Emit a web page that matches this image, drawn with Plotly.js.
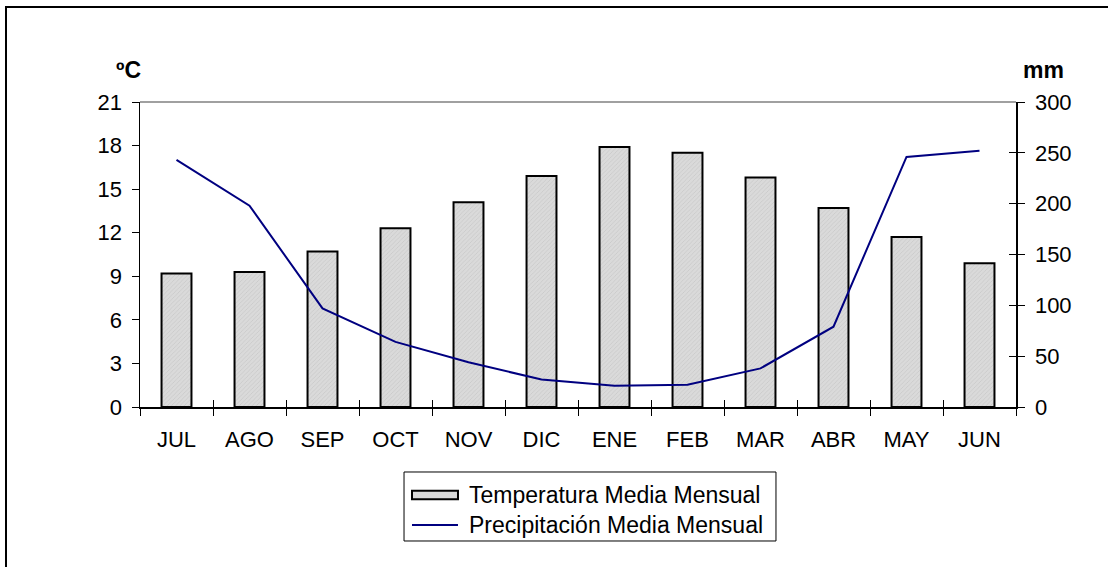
<!DOCTYPE html>
<html>
<head>
<meta charset="utf-8">
<script src="https://cdn.plot.ly/plotly-3.0.1.min.js"></script>
<style>
  html, body { margin: 0; padding: 0; background: #fff; overflow: hidden; }
  #wrap { position: relative; width: 1108px; height: 567px; }
  #chart { position: absolute; left: 0; top: 0; width: 1108px; height: 567px; }
  #frame { position: absolute; left: 5px; top: 6px; width: 1200px; height: 700px;
           border: 2px solid #000; pointer-events: none; }
</style>
</head>
<body>
<div id="wrap">
  <div id="chart"></div>
  <div id="frame"></div>
</div>
<script>
const months = ["JUL","AGO","SEP","OCT","NOV","DIC","ENE","FEB","MAR","ABR","MAY","JUN"];
const temperature = [9.2, 9.3, 10.7, 12.3, 14.1, 15.9, 17.9, 17.5, 15.8, 13.7, 11.7, 9.9];
const precipitation = [243, 198, 97, 64, 44, 27, 21, 22, 38, 79, 246, 252];
const tempTicks = [0, 3, 6, 9, 12, 15, 18, 21];
const precTicks = [0, 50, 100, 150, 200, 250, 300];
const tempName = "Temperatura Media Mensual";
const precName = "Precipitación Media Mensual";
const tempUnit = "ºC";
const precUnit = "mm";

const FONT = '"Liberation Sans", Arial, sans-serif';
const BAR_FILL = "#d9d9d9";
const LINE_COLOR = "#000080";

const traces = [
  {
    type: "bar", x: months, y: temperature, name: tempName,
    xaxis: "x", yaxis: "y", width: 0.41, showlegend: false,
    marker: {
      color: BAR_FILL,
      line: { color: "#000", width: 2 },
      pattern: { shape: "/", fgcolor: "#c4c4c4", bgcolor: "#dadada", size: 3, solidity: 0.2 }
    },
    hoverinfo: "x+y"
  },
  {
    type: "scatter", mode: "lines", x: months, y: precipitation, name: precName,
    xaxis: "x", yaxis: "y2", showlegend: false,
    line: { color: LINE_COLOR, width: 2 },
    hoverinfo: "x+y"
  },
  // invisible helper so the overlay axes (for crossing ticks) get drawn
  { type: "scatter", mode: "lines", x: months, y: precipitation, xaxis: "x2", yaxis: "y3",
    opacity: 0, showlegend: false, hoverinfo: "skip" }
];

// legend box geometry (paper coordinates)
const LG = { x0: 0.3014, x1: 0.7260, y0: -0.4393, y1: -0.2131,
             sx0: 0.3105, sx1: 0.3630, tx: 0.3733, r1: -0.2885, r2: -0.3869 };

const layout = {
  width: 1108, height: 567,
  margin: { l: 140, r: 92, t: 102, b: 160 },
  paper_bgcolor: "rgba(0,0,0,0)", plot_bgcolor: "rgba(0,0,0,0)",
  font: { family: FONT, size: 22, color: "#000" },
  showlegend: false,
  xaxis: {
    type: "category", categoryorder: "array", categoryarray: months,
    range: [-0.5, 11.5],
    showline: true, linecolor: "#000", linewidth: 1.5,
    ticks: "outside", ticklen: 7, tickwidth: 1, tickcolor: "#000",
    tickson: "boundaries", showgrid: false, zeroline: false,
    tickfont: { size: 22, family: FONT },
    ticklabelstandoff: 12
  },
  xaxis2: {
    type: "category", categoryorder: "array", categoryarray: months,
    overlaying: "x", anchor: "y", range: [-0.5, 11.5],
    showline: false, ticks: "inside", ticklen: 7, tickwidth: 1, tickcolor: "#000",
    tickson: "boundaries", showticklabels: false, showgrid: false, zeroline: false
  },
  yaxis: {
    range: [0, 21], tickvals: tempTicks, ticktext: tempTicks.map(String),
    showline: true, linecolor: "#000", linewidth: 1.5,
    ticks: "outside", ticklen: 7, tickwidth: 1, tickcolor: "#000",
    showgrid: false, zeroline: false,
    tickfont: { size: 22, family: FONT },
    ticklabelstandoff: 5
  },
  yaxis2: {
    range: [0, 300], tickvals: precTicks, ticktext: precTicks.map(String),
    overlaying: "y", side: "right", anchor: "x",
    showline: true, linecolor: "#000", linewidth: 1.5,
    ticks: "outside", ticklen: 7, tickwidth: 1, tickcolor: "#000",
    showgrid: false, zeroline: false,
    tickfont: { size: 22, family: FONT },
    ticklabelstandoff: 6
  },
  yaxis3: {
    range: [0, 300], tickvals: precTicks, overlaying: "y", side: "right", anchor: "x2",
    showline: false, ticks: "inside", ticklen: 7, tickwidth: 1, tickcolor: "#000",
    showticklabels: false, showgrid: false, zeroline: false
  },
  shapes: [
    { type: "line", xref: "paper", yref: "paper", x0: 0, x1: 1, y0: 1, y1: 1,
      line: { color: "#808080", width: 1.5 } },
    // legend
    { type: "rect", xref: "paper", yref: "paper", x0: LG.x0, x1: LG.x1, y0: LG.y0, y1: LG.y1,
      line: { color: "#000", width: 1 }, fillcolor: "#fff" },
    { type: "rect", xref: "paper", yref: "paper", x0: LG.sx0, x1: LG.sx1,
      y0: LG.r1 - 0.0138, y1: LG.r1 + 0.0138,
      line: { color: "#000", width: 2 }, fillcolor: BAR_FILL },
    { type: "line", xref: "paper", yref: "paper", x0: LG.sx0, x1: LG.sx1, y0: LG.r2, y1: LG.r2,
      line: { color: LINE_COLOR, width: 2 } }
  ],
  annotations: [
    { text: "<b>" + tempUnit + "</b>", xref: "paper", yref: "paper", x: -0.013, y: 1.0,
      xanchor: "center", yanchor: "bottom", yshift: 17, showarrow: false,
      font: { size: 23, family: FONT, color: "#000" } },
    { text: "<b>" + precUnit + "</b>", xref: "paper", yref: "paper", x: 1.0, y: 1.0,
      xanchor: "center", yanchor: "bottom", xshift: 27, yshift: 17, showarrow: false,
      font: { size: 23, family: FONT, color: "#000" } },
    { text: tempName, xref: "paper", yref: "paper", x: LG.tx, y: LG.r1,
      xanchor: "left", yanchor: "middle", showarrow: false,
      font: { size: 23, family: FONT, color: "#000" } },
    { text: precName, xref: "paper", yref: "paper", x: LG.tx, y: LG.r2,
      xanchor: "left", yanchor: "middle", showarrow: false,
      font: { size: 23, family: FONT, color: "#000" } }
  ]
};

Plotly.newPlot("chart", traces, layout, { displayModeBar: false, staticPlot: true });
</script>
</body>
</html>
